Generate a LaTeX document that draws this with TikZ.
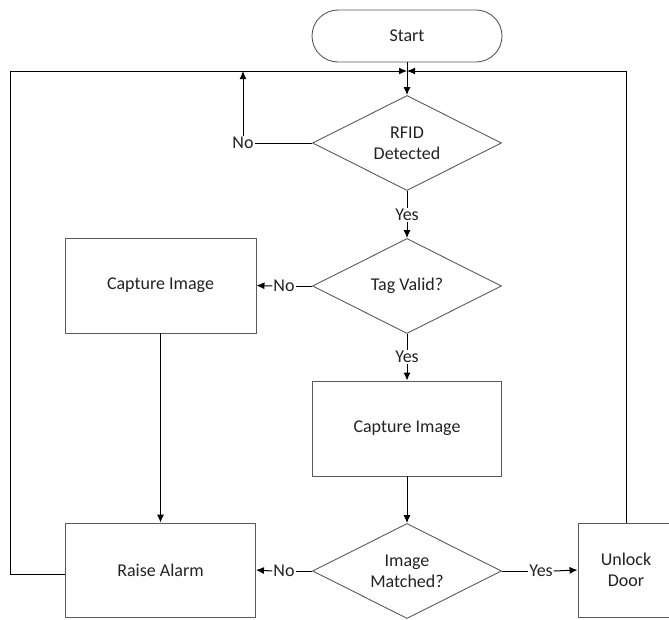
\documentclass[tikz,border=0pt]{standalone}
\usepackage{fontspec}
\setmainfont{Carlito}
\usetikzlibrary{shapes.geometric,shapes.misc,arrows.meta}
\definecolor{shapeline}{HTML}{595959}
\definecolor{txt}{HTML}{222222}
\begin{document}
\begin{tikzpicture}[x=1pt,y=-1pt,
  every node/.style={font=\fontsize{18}{21}\selectfont, text=txt},
  procbox/.style={draw=shapeline, line width=0.9pt, rectangle, inner sep=0pt, align=center},
  decbox/.style={draw=shapeline, line width=0.9pt, diamond, aspect=2, inner sep=0pt, minimum width=189pt, minimum height=95pt, align=center},
  termbox/.style={draw=shapeline, line width=0.9pt, rounded rectangle, inner sep=0pt, minimum width=190pt, minimum height=52pt},
  lbl/.style={inner sep=1pt},
  conn/.style={line width=1pt, draw=black},
  arr/.style={conn, -{Latex[length=8pt,width=7pt]}}
]
\useasboundingbox (0,0) rectangle (669,619);
\clip (0,0) rectangle (669,619);

\node[termbox] (start) at (407,36) {Start};
\coordinate (J) at (407,71);
\node[decbox] (rfid) at (407,143) {RFID\\Detected};
\node[lbl] (yes1) at (407,215) {Yes};
\node[decbox] (tag) at (407,286) {Tag Valid?};
\node[procbox, minimum width=191pt, minimum height=95pt] (cap1) at (160.5,285.5) {Capture Image};
\node[lbl] (noTag) at (284,286) {No};
\node[lbl] (yes2) at (407,357) {Yes};
\node[procbox, minimum width=189pt, minimum height=95pt] (cap2) at (407,428.5) {Capture Image};
\node[decbox] (match) at (407,571) {Image\\Matched?};
\node[procbox, minimum width=190pt, minimum height=94pt] (alarm) at (160.5,570) {Raise Alarm};
\node[lbl] (noMatch) at (284,571) {No};
\node[lbl] (yes3) at (541,571) {Yes};
\node[procbox, minimum width=96pt, minimum height=94pt] (unlock) at (626,570) {Unlock\\Door};
\node[lbl] (noRfid) at (243,143) {No};

\coordinate (LB) at (10,574);
\coordinate (LT) at (10,71);
\coordinate (RT) at (626,71);
\coordinate (NT) at (243,71);

% main flow
\draw[conn] (start.south) -- (J);
\draw[arr] (J) -- (rfid.north);
\draw[conn] (rfid.south) -- (yes1.north);
\draw[arr] (yes1.south) -- (tag.north);
\draw[conn] (tag.south) -- (yes2.north);
\draw[arr] (yes2.south) -- (cap2.north);
\draw[arr] (cap2.south) -- (match.north);

% RFID no branch
\draw[conn] (rfid.west) -- (noRfid.east);
\draw[arr] (noRfid.north) -- (NT);

% tag invalid
\draw[conn] (tag.west) -- (noTag.east);
\draw[arr] (noTag.west) -- (cap1.east);
\draw[arr] (cap1.south) -- (alarm.north);

% match
\draw[conn] (match.west) -- (noMatch.east);
\draw[arr] (noMatch.west) -- (alarm.east);
\draw[conn] (match.east) -- (yes3.west);
\draw[arr] (yes3.east) -- (unlock.west);

% loops back
\draw[arr] (alarm.west |- LB) -- (LB) -- (LT) -- (J);
\draw[arr] (unlock.north) -- (RT) -- (J);
\end{tikzpicture}
\end{document}
